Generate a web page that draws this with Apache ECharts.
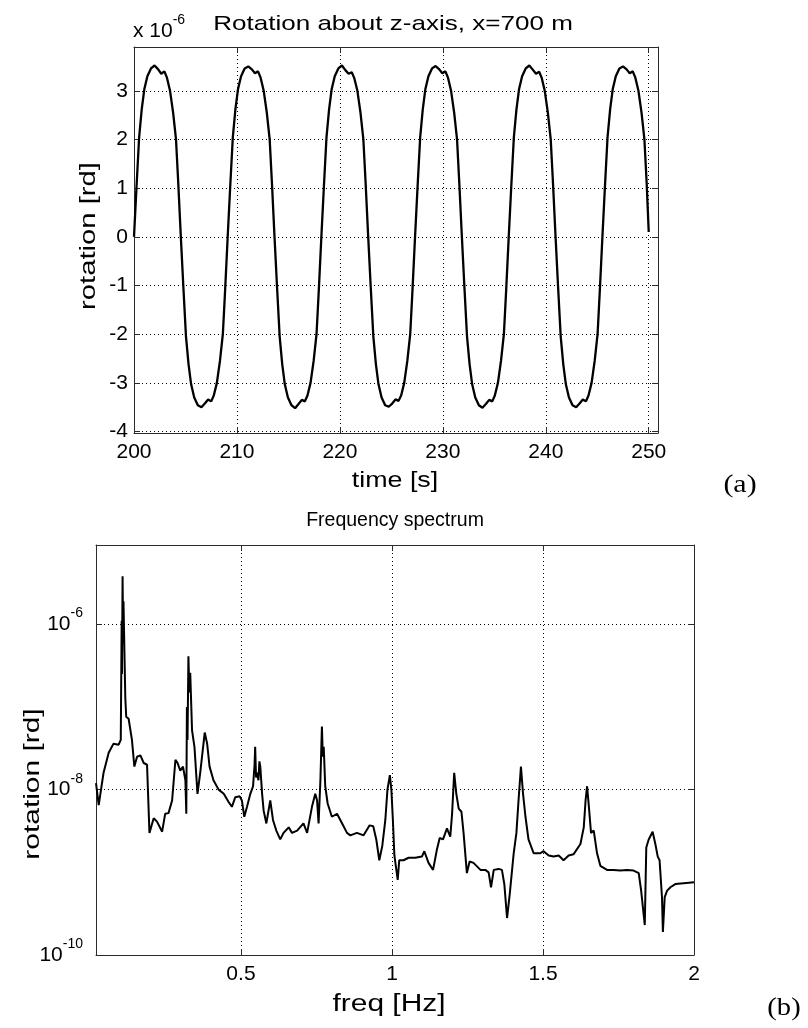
<!doctype html>
<html lang="en">
<head>
  <meta charset="UTF-8">
  <title>Rotation about z-axis, x=700 m</title>
  <script src="https://cdn.jsdelivr.net/npm/echarts@6.0.0/dist/echarts.min.js"></script>
  <style>
    * {
      margin: 0;
      padding: 0;
    }

    html,
    body {
      width: 808px;
      height: 1028px;
      background: #ffffff;
    }

    #main {
      width: 808px;
      height: 1028px;
    }
  </style>
</head>
<body>
  <div id="main"></div>
  <script>
    // (a) rotation about z, in units of 1e-6 rd
    let times = [
      200.00, 200.25, 200.50, 200.75, 201.00, 201.30, 201.65, 202.00, 202.35, 202.65, 202.95, 203.20, 203.50, 203.80, 204.08, 204.30,
      204.55, 204.80, 205.05, 205.30, 205.55, 205.85, 206.20, 206.55, 206.90, 207.20, 207.50, 207.75, 208.05, 208.35, 208.63, 208.85,
      209.10, 209.35, 209.60, 209.85, 210.10, 210.40, 210.75, 211.10, 211.45, 211.75, 212.05, 212.30, 212.60, 212.90, 213.18, 213.40,
      213.65, 213.90, 214.15, 214.40, 214.65, 214.95, 215.30, 215.65, 216.00, 216.30, 216.60, 216.85, 217.15, 217.45, 217.73, 217.95,
      218.20, 218.45, 218.70, 218.95, 219.20, 219.50, 219.85, 220.20, 220.55, 220.85, 221.15, 221.40, 221.70, 222.00, 222.28, 222.50,
      222.75, 223.00, 223.25, 223.50, 223.75, 224.05, 224.40, 224.75, 225.10, 225.40, 225.70, 225.95, 226.25, 226.55, 226.83, 227.05,
      227.30, 227.55, 227.80, 228.05, 228.30, 228.60, 228.95, 229.30, 229.65, 229.95, 230.25, 230.50, 230.80, 231.10, 231.38, 231.60,
      231.85, 232.10, 232.35, 232.60, 232.85, 233.15, 233.50, 233.85, 234.20, 234.50, 234.80, 235.05, 235.35, 235.65, 235.93, 236.15,
      236.40, 236.65, 236.90, 237.15, 237.40, 237.70, 238.05, 238.40, 238.75, 239.05, 239.35, 239.60, 239.90, 240.20, 240.48, 240.70,
      240.95, 241.20, 241.45, 241.70, 241.95, 242.25, 242.60, 242.95, 243.30, 243.60, 243.90, 244.15, 244.45, 244.75, 245.03, 245.25,
      245.50, 245.75, 246.00, 246.25, 246.50, 246.80, 247.15, 247.50, 247.85, 248.15, 248.45, 248.70, 249.00, 249.30, 249.58, 249.80,
      250.00
    ];
    let rotation = [
      0.00, 1.05, 2.05, 2.62, 3.03, 3.30, 3.46, 3.52, 3.44, 3.35, 3.40, 3.27, 3.00, 2.55, 2.00, 1.10,
      0.00, -1.05, -2.05, -2.62, -3.03, -3.30, -3.46, -3.50, -3.42, -3.34, -3.38, -3.26, -3.00, -2.55, -2.00, -1.10,
      0.00, 1.05, 2.05, 2.62, 3.03, 3.30, 3.46, 3.50, 3.44, 3.36, 3.40, 3.27, 3.00, 2.55, 2.00, 1.10,
      0.00, -1.05, -2.05, -2.62, -3.03, -3.30, -3.46, -3.52, -3.43, -3.35, -3.38, -3.26, -3.00, -2.55, -2.00, -1.10,
      0.00, 1.05, 2.05, 2.62, 3.03, 3.30, 3.46, 3.52, 3.42, 3.35, 3.38, 3.26, 3.00, 2.55, 2.00, 1.10,
      0.00, -1.05, -2.05, -2.62, -3.03, -3.30, -3.46, -3.49, -3.42, -3.34, -3.37, -3.26, -3.00, -2.55, -2.00, -1.10,
      0.00, 1.05, 2.05, 2.62, 3.03, 3.30, 3.46, 3.51, 3.44, 3.36, 3.40, 3.27, 3.00, 2.55, 2.00, 1.10,
      0.00, -1.05, -2.05, -2.62, -3.03, -3.30, -3.46, -3.51, -3.43, -3.35, -3.38, -3.26, -3.00, -2.55, -2.00, -1.10,
      0.00, 1.05, 2.05, 2.62, 3.03, 3.30, 3.46, 3.52, 3.43, 3.35, 3.39, 3.27, 3.00, 2.55, 2.00, 1.10,
      0.00, -1.05, -2.05, -2.62, -3.03, -3.30, -3.46, -3.50, -3.42, -3.34, -3.38, -3.26, -3.00, -2.55, -2.00, -1.10,
      0.00, 1.05, 2.05, 2.62, 3.03, 3.30, 3.46, 3.50, 3.44, 3.36, 3.40, 3.27, 3.00, 2.55, 2.00, 1.10,
      0.10
    ];
    let timeTicks = [200, 210, 220, 230, 240, 250];
    let rotTicks = [-4, -3, -2, -1, 0, 1, 2, 3];

    // (b) frequency spectrum, rd
    let freqs = [
      0.020, 0.029, 0.045, 0.062, 0.078, 0.095, 0.102, 0.105, 0.106, 0.108, 0.110, 0.111, 0.114, 0.117, 0.120, 0.128,
      0.139, 0.147, 0.156, 0.167, 0.178, 0.189, 0.197, 0.211, 0.222, 0.239, 0.249, 0.260, 0.272, 0.283, 0.290, 0.299,
      0.308, 0.316, 0.319, 0.321, 0.323, 0.326, 0.329, 0.332, 0.338, 0.346, 0.356, 0.365, 0.380, 0.388, 0.396, 0.409,
      0.426, 0.443, 0.459, 0.470, 0.481, 0.496, 0.503, 0.511, 0.520, 0.531, 0.540, 0.545, 0.547, 0.550, 0.553, 0.558,
      0.561, 0.564, 0.570, 0.575, 0.584, 0.597, 0.606, 0.617, 0.630, 0.641, 0.658, 0.669, 0.686, 0.707, 0.719, 0.735,
      0.746, 0.752, 0.757, 0.763, 0.768, 0.771, 0.774, 0.779, 0.787, 0.801, 0.818, 0.835, 0.851, 0.862, 0.884, 0.906,
      0.926, 0.938, 0.948, 0.958, 0.968, 0.978, 0.985, 0.993, 0.998, 1.003, 1.008, 1.014, 1.019, 1.024, 1.038, 1.055,
      1.077, 1.099, 1.107, 1.121, 1.136, 1.149, 1.158, 1.169, 1.182, 1.193, 1.199, 1.206, 1.213, 1.221, 1.230, 1.237,
      1.248, 1.257, 1.270, 1.293, 1.309, 1.320, 1.328, 1.337, 1.353, 1.364, 1.372, 1.381, 1.390, 1.403, 1.412, 1.419,
      1.427, 1.434, 1.442, 1.452, 1.469, 1.491, 1.502, 1.519, 1.535, 1.552, 1.568, 1.585, 1.601, 1.624, 1.635, 1.641,
      1.646, 1.652, 1.659, 1.668, 1.679, 1.690, 1.712, 1.734, 1.756, 1.778, 1.800, 1.817, 1.825, 1.837, 1.842, 1.850,
      1.863, 1.872, 1.880, 1.886, 1.894, 1.897, 1.903, 1.911, 1.922, 1.938, 1.966, 2.000
    ];
    let amps = [
      1.2e-8, 6.5e-9, 1.6e-8, 2.8e-8, 3.6e-8, 3.5e-8, 4.0e-8, 1.1e-6, 2.5e-7, 3.8e-6, 6.0e-7, 1.9e-6, 4.9e-7, 1.3e-7, 7.6e-8, 7.2e-8,
      4.0e-8, 1.9e-8, 2.5e-8, 2.6e-8, 2.1e-8, 2.0e-8, 3.0e-9, 4.5e-9, 4.1e-9, 3.1e-9, 5.1e-9, 5.2e-9, 7.4e-9, 2.3e-8, 2.1e-8, 1.7e-8,
      1.9e-8, 1.3e-8, 5.1e-9, 1.0e-7, 4.0e-8, 4.1e-7, 1.5e-7, 2.6e-7, 5.2e-8, 3.3e-8, 8.9e-9, 1.6e-8, 4.9e-8, 3.6e-8, 1.9e-8, 1.3e-8,
      1.0e-8, 8.9e-9, 7.1e-9, 6.2e-9, 8.1e-9, 8.3e-9, 7.4e-9, 4.7e-9, 6.2e-9, 8.9e-9, 1.1e-8, 2.0e-8, 3.3e-8, 1.4e-8, 1.6e-8, 1.3e-8,
      2.2e-8, 1.9e-8, 8.9e-9, 5.6e-9, 3.9e-9, 7.4e-9, 4.3e-9, 3.2e-9, 2.5e-9, 3.0e-9, 3.5e-9, 3.0e-9, 3.2e-9, 3.9e-9, 3.0e-9, 6.2e-9,
      8.9e-9, 7.4e-9, 3.9e-9, 1.3e-8, 5.8e-8, 2.5e-8, 3.3e-8, 1.1e-8, 6.8e-9, 4.7e-9, 5.1e-9, 3.9e-9, 3.0e-9, 2.8e-9, 3.0e-9, 2.8e-9,
      3.7e-9, 3.6e-9, 2.5e-9, 1.4e-9, 2.1e-9, 4.3e-9, 1.0e-8, 1.5e-8, 1.0e-8, 4.3e-9, 1.6e-9, 1.1e-9, 8.1e-10, 1.4e-9, 1.4e-9, 1.5e-9,
      1.5e-9, 1.55e-9, 1.8e-9, 1.3e-9, 1.07e-9, 1.9e-9, 2.6e-9, 2.5e-9, 3.4e-9, 2.7e-9, 5.1e-9, 1.6e-8, 8.9e-9, 5.9e-9, 5.4e-9, 3.0e-9,
      9.8e-10, 1.35e-9, 1.3e-9, 1.07e-9, 1.07e-9, 1.0e-9, 6.6e-10, 1.07e-9, 1.1e-9, 1.07e-9, 7.2e-10, 2.8e-10, 5.5e-10, 1.7e-9, 3.0e-9, 7.4e-9,
      1.9e-8, 8.9e-9, 4.7e-9, 2.5e-9, 1.7e-9, 1.7e-9, 1.8e-9, 1.6e-9, 1.55e-9, 1.6e-9, 1.4e-9, 1.6e-9, 1.65e-9, 2.2e-9, 3.5e-9, 7.4e-9,
      1.1e-8, 6.2e-9, 3.0e-9, 3.2e-9, 1.7e-9, 1.2e-9, 1.07e-9, 1.07e-9, 1.05e-9, 1.07e-9, 1.05e-9, 9.8e-10, 6.0e-10, 2.3e-10, 2.0e-9, 2.5e-9,
      3.1e-9, 2.2e-9, 1.55e-9, 1.4e-9, 5.0e-10, 1.9e-10, 5.0e-10, 6.0e-10, 6.6e-10, 7.2e-10, 7.4e-10, 7.6e-10
    ];
    let freqTicks = [0.5, 1, 1.5, 2];

    let font = '"Liberation Sans", Arial, Helvetica, sans-serif';
    let serif = '"Liberation Serif", "DejaVu Serif", serif';
    let ink = '#000000';
    let boxColor = '#2b2b2b';
    let dots = { color: '#000000', width: 1, type: [1, 3] };

    function pairs(xs, ys) {
      return xs.map(function (x, i) { return [x, ys[i]]; });
    }

    function powerLabel(v) {
      let e = Math.round(Math.log10(v));
      return '{b|10}{s|' + e + '}';
    }

    let supRich = {
      b: { fontSize: 21, lineHeight: 36, fontFamily: font, color: ink },
      s: { fontSize: 14, lineHeight: 14, verticalAlign: 'top', fontFamily: font, color: ink }
    };

    function frameAxis(grid, pos, extra) {
      let a = {
        gridIndex: grid,
        position: pos,
        axisLine: { show: true, onZero: false, lineStyle: { color: boxColor, width: 1 } },
        axisTick: { show: true, inside: true, length: 6, lineStyle: { color: boxColor } },
        axisLabel: { show: false },
        splitLine: { show: false }
      };
      return Object.assign(a, extra);
    }

    // titles and axis names, a bit wider than plain Liberation Sans like the reference lettering
    function label(text, x, y, size, sx, rot, family) {
      return {
        type: 'text', x: x, y: y, scaleX: sx, rotation: rot || 0,
        style: { text: text, fill: ink, fontSize: size, fontFamily: family || font, align: 'center', verticalAlign: 'middle' }
      };
    }

    let labelStyle = { color: ink, fontSize: 21, fontFamily: font };

    let myChart = echarts.init(document.getElementById('main'), null, { renderer: 'canvas' });

    let option = {
      animation: false,
      backgroundColor: '#ffffff',
      grid: [
        { left: 134, top: 47, width: 524, height: 386, show: false },
        { left: 96, top: 545, width: 598, height: 410, show: false }
      ],
      xAxis: [
        frameAxis(0, 'bottom', {
          type: 'value', min: 200, max: 250.9,
          axisTick: { show: true, inside: true, length: 6, customValues: timeTicks, lineStyle: { color: boxColor } },
          axisLabel: Object.assign({ show: true, margin: 9, customValues: timeTicks }, labelStyle),
          splitLine: { show: true, lineStyle: dots }
        }),
        frameAxis(0, 'top', {
          type: 'value', min: 200, max: 250.9,
          axisTick: { show: true, inside: true, length: 6, customValues: timeTicks, lineStyle: { color: boxColor } }
        }),
        frameAxis(1, 'bottom', {
          type: 'value', min: 0.02, max: 2,
          axisTick: { show: true, inside: true, length: 6, customValues: freqTicks, lineStyle: { color: boxColor } },
          axisLabel: Object.assign({ show: true, margin: 9, customValues: freqTicks }, labelStyle),
          splitLine: { show: true, lineStyle: dots }
        }),
        frameAxis(1, 'top', {
          type: 'value', min: 0.02, max: 2,
          axisTick: { show: true, inside: true, length: 6, customValues: freqTicks, lineStyle: { color: boxColor } }
        })
      ],
      yAxis: [
        frameAxis(0, 'left', {
          type: 'value', min: -4.03, max: 3.9,
          axisTick: { show: true, inside: true, length: 6, customValues: rotTicks, lineStyle: { color: boxColor } },
          axisLabel: Object.assign({ show: true, margin: 6, customValues: rotTicks }, labelStyle),
          splitLine: { show: true, lineStyle: dots }
        }),
        frameAxis(0, 'right', {
          type: 'value', min: -4.03, max: 3.9,
          axisTick: { show: true, inside: true, length: 6, customValues: rotTicks, lineStyle: { color: boxColor } }
        }),
        frameAxis(1, 'left', {
          type: 'log', logBase: 10, min: 1e-10, max: 9.1e-6, interval: 2,
          axisTick: { show: true, inside: true, length: 6, lineStyle: { color: boxColor } },
          axisLabel: { show: true, margin: 13, showMaxLabel: false, formatter: powerLabel, rich: supRich },
          splitLine: { show: true, lineStyle: dots }
        }),
        frameAxis(1, 'right', {
          type: 'log', logBase: 10, min: 1e-10, max: 9.1e-6, interval: 2
        })
      ],
      graphic: [
        label('Rotation about z-axis, x=700 m', 393, 24, 21, 1.24),
        {
          type: 'text', x: 133, y: 31,
          style: { text: '{b|x 10}{s|-6}', align: 'left', verticalAlign: 'middle', rich: supRich }
        },
        label('time [s]', 395, 481, 22, 1.22),
        label('rotation [rd]', 89, 236, 22, 1.33, Math.PI / 2),
        label('Frequency spectrum', 395, 521, 19.5, 1.0),
        label('freq [Hz]', 389, 1005, 23, 1.3),
        label('rotation [rd]', 33, 784, 22, 1.36, Math.PI / 2),
        label('(a)', 740, 485, 26, 1.15, 0, serif),
        label('(b)', 784, 1008, 26, 1.1, 0, serif)
      ],
      series: [
        {
          name: 'rotation',
          type: 'line',
          xAxisIndex: 0,
          yAxisIndex: 0,
          symbol: 'none',
          smooth: false,
          silent: true,
          lineStyle: { color: ink, width: 2.3 },
          data: pairs(times, rotation)
        },
        {
          name: 'spectrum',
          type: 'line',
          xAxisIndex: 2,
          yAxisIndex: 2,
          symbol: 'none',
          smooth: false,
          silent: true,
          lineStyle: { color: ink, width: 2 },
          data: pairs(freqs, amps)
        }
      ]
    };
    myChart.setOption(option);
  </script>
</body>
</html>
